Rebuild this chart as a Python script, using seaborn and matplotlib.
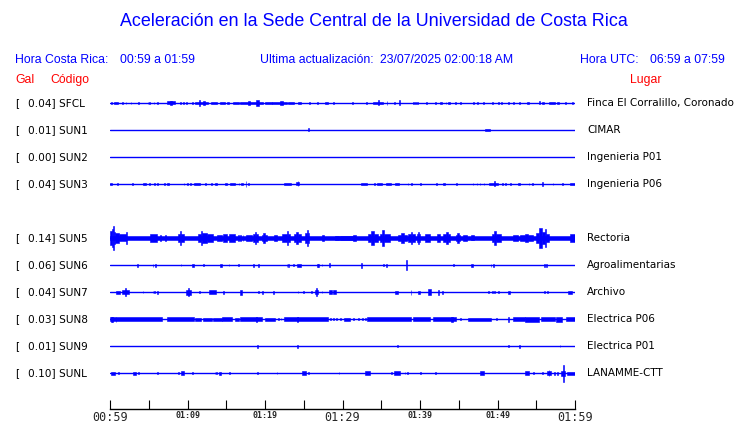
import matplotlib
matplotlib.use("Agg")
import matplotlib.pyplot as plt
import matplotlib.transforms as mtransforms
import numpy as np
import pandas as pd
import seaborn as sns

# Stations, top to bottom (slot 4 = SUN4 is empty)
codes = ['SFCL', 'SUN1', 'SUN2', 'SUN3', 'SUN5', 'SUN6', 'SUN7', 'SUN8', 'SUN9', 'SUNL']
gal = [0.04, 0.01, 0.00, 0.04, 0.14, 0.06, 0.04, 0.03, 0.01, 0.10]
places = ['Finca El Corralillo, Coronado', 'CIMAR', 'Ingenieria P01', 'Ingenieria P06',
          'Rectoria', 'Agroalimentarias', 'Archivo', 'Electrica P06', 'Electrica P01', 'LANAMME-CTT']
slots = [0, 1, 2, 3, 5, 6, 7, 8, 9, 10]

tick_min = list(range(0, 61, 5))
tick_labels = ['00:59', '', '01:09', '', '01:19', '', '01:29', '', '01:39', '', '01:49', '', '01:59']
big_labels = ['00:59', '01:29', '01:59']

# Bursts: (start min, end min, half amplitude)
sfcl = [(0.13, 0.13, 1), (0.55, 1.07, 1.3), (1.5, 1.7, 1.3), (2.0, 2.0, 1), (2.67, 2.67, 1),
        (3.6, 3.8, 1.3), (4.86, 4.86, 1), (5.08, 5.08, 1), (5.63, 5.63, 1), (6.06, 6.06, 1),
        (7.35, 8.4, 1.5), (7.7, 8.0, 2.2), (9.0, 9.0, 1), (9.4, 9.4, 1), (9.8, 9.8, 1),
        (10.6, 10.6, 1), (11.0, 12.6, 1.3), (11.5, 11.5, 3), (12.0, 12.2, 2), (13.0, 13.8, 1.3),
        (14.2, 14.8, 1.3), (15.05, 15.4, 1.3), (15.9, 16.6, 1.3), (16.8, 19.75, 1.3),
        (17.8, 18.0, 2), (18.9, 19.2, 3), (20.0, 20.9, 1.3), (20.9, 22.8, 1.3), (21.9, 22.3, 2.2),
        (23.0, 23.7, 1.3), (24.3, 24.7, 1.3), (25.7, 25.7, 1), (26.7, 26.7, 1), (27.8, 28.1, 1.3),
        (28.8, 28.8, 1), (31.2, 31.2, 1), (33.0, 33.0, 1), (33.9, 35.2, 1.3), (34.6, 34.6, 2.5),
        (35.7, 35.7, 2), (36.7, 36.7, 1), (37.3, 37.3, 2.5), (39.1, 39.1, 1), (39.4, 39.4, 1),
        (39.6, 39.6, 1), (40.8, 40.8, 1), (41.9, 41.9, 1), (42.6, 42.9, 1.3), (43.3, 43.3, 1),
        (43.6, 43.9, 1.3), (44.5, 44.5, 1), (45.2, 45.2, 1), (46.9, 46.9, 1), (47.4, 47.4, 1),
        (48.1, 48.1, 1), (49.3, 49.3, 1), (50.1, 50.1, 1), (50.5, 50.5, 1), (51.4, 51.4, 1),
        (52.0, 52.0, 1), (52.8, 52.8, 1), (53.8, 54.0, 1.3), (55.4, 55.4, 1.5), (55.7, 56.0, 1.3),
        (56.7, 57.4, 1.3), (57.7, 58.0, 1.3), (58.7, 58.7, 1), (59.6, 59.8, 1.3)]
sun1 = [(25.6, 25.6, 1.5), (48.4, 49.0, 1.3)]
sun2 = []
sun3 = [(0, 0.2, 1.3), (0.95, 0.95, 1), (2.9, 2.9, 1), (4.2, 4.6, 1.3), (5.0, 5.0, 1),
        (5.7, 5.7, 1), (6.1, 6.1, 1), (7.0, 7.0, 1), (7.35, 7.6, 1.3), (9.5, 9.5, 1),
        (9.9, 9.9, 1), (10.3, 10.3, 1), (10.9, 11.6, 1.3), (12.3, 12.3, 1), (13.0, 13.1, 1.3),
        (13.5, 13.8, 1.3), (14.8, 15.05, 1.3), (15.5, 16.1, 1.3), (16.6, 16.6, 1),
        (16.9, 17.2, 1.3), (17.5, 17.5, 3), (17.8, 17.9, 1.3), (22.4, 23.3, 1.3),
        (24.0, 24.4, 1.5), (24.2, 24.2, 2.5), (32.4, 33.1, 1.3), (34.1, 34.1, 1),
        (34.5, 35.1, 1.3), (35.6, 36.3, 1.3), (36.8, 37.3, 1.3), (38.4, 38.4, 1),
        (38.9, 39.0, 1.3), (40.0, 40.0, 1), (42.1, 42.1, 1), (43.0, 43.2, 1.3), (44.7, 44.7, 1),
        (46.8, 46.8, 1), (47.3, 47.3, 1), (47.7, 47.7, 1), (48.2, 48.2, 1), (48.9, 50.1, 1.3),
        (49.6, 49.6, 2.5), (50.6, 50.6, 1), (51.0, 51.0, 1.3), (51.6, 51.6, 1),
        (52.6, 52.9, 1.3), (54.0, 54.0, 1), (54.5, 54.5, 1), (55.8, 55.8, 2), (57.1, 57.1, 1),
        (58.3, 58.3, 1), (59.3, 60, 1.3)]
sun5 = [(0, 60, 1.7), (0, 0.2, 7), (0.2, 0.4, 9), (0.4, 0.5, 12), (0.5, 0.65, 6),
        (0.65, 1.2, 5), (1.2, 2.1, 3.5), (2.1, 2.15, 6), (5.1, 6.0, 4), (6.5, 6.5, 3),
        (7.1, 7.1, 3), (8.8, 9.0, 4), (9.0, 9.2, 7), (9.2, 9.5, 4), (11.4, 11.7, 4),
        (11.7, 11.9, 7), (11.9, 12.5, 5), (12.5, 13.3, 4), (13.8, 14.4, 3), (14.6, 15.05, 4),
        (15.3, 16.1, 4), (16.5, 16.5, 3), (16.8, 16.8, 3), (17.1, 17.1, 3), (17.6, 18.3, 3),
        (18.5, 18.7, 4), (18.7, 18.9, 6), (18.9, 19.1, 4), (19.6, 19.8, 3), (19.8, 20.0, 5),
        (20.0, 20.2, 3), (21.1, 21.5, 3), (22.2, 22.8, 4), (22.8, 23.0, 7), (23.0, 23.2, 4),
        (23.7, 24.0, 4), (24.0, 24.3, 6), (24.3, 24.7, 4), (25.2, 25.4, 5), (25.4, 25.5, 8),
        (25.5, 25.7, 5), (27.3, 27.6, 3), (29.0, 29.5, 2), (29.7, 31.4, 2.3), (31.4, 31.8, 3),
        (33.3, 33.7, 4), (33.7, 34.0, 7), (34.0, 34.6, 4), (34.8, 35.1, 4), (35.1, 35.3, 8),
        (35.3, 36.1, 4), (37.2, 37.6, 3), (37.6, 37.9, 5), (37.9, 38.3, 3), (38.5, 38.8, 4),
        (38.8, 39.0, 6), (39.0, 39.4, 4), (39.6, 39.7, 4), (39.7, 39.9, 6), (39.9, 40.0, 4),
        (40.6, 41.3, 4), (42.2, 42.6, 4), (43.0, 43.3, 4), (43.3, 43.6, 6), (43.6, 43.9, 4),
        (44.6, 44.8, 3), (44.8, 45.0, 5), (45.0, 45.2, 3), (45.6, 46.0, 3), (46.6, 47.0, 2.5),
        (49.3, 49.6, 4), (49.6, 49.8, 7), (49.8, 50.5, 4), (52.0, 52.7, 3), (52.9, 53.5, 3),
        (53.5, 53.9, 4), (53.9, 54.6, 3), (55.0, 55.4, 5), (55.4, 55.7, 10), (55.7, 56.1, 6),
        (56.1, 56.3, 9), (56.3, 56.6, 4), (59.4, 60, 4)]
sun6 = [(3.5, 3.5, 1.5), (5.5, 5.5, 1.5), (5.8, 5.8, 1.5), (9.1, 9.1, 1.2), (10.6, 10.8, 1.5),
        (12.0, 12.0, 1.2), (14.2, 14.4, 1.5), (15.3, 15.3, 1.2), (16.5, 16.5, 1.2),
        (18.5, 18.5, 1.5), (19.1, 19.1, 1.5), (22.8, 22.8, 1.5), (23.0, 23.0, 1.5),
        (23.6, 23.6, 1.2), (24.1, 24.6, 1.5), (26.7, 26.7, 1.5), (26.9, 26.9, 1.5),
        (27.3, 27.3, 1.2), (28.3, 28.3, 2), (32.4, 32.5, 2.5), (35.2, 35.2, 1), (35.6, 35.6, 1.5),
        (38.2, 38.3, 5), (44.3, 44.3, 1.2), (46.6, 46.8, 1.5), (49.1, 49.1, 1.5),
        (49.4, 49.4, 1.5), (56.0, 56.0, 1.5), (56.3, 56.3, 1.5)]
sun7 = [(0.77, 1.3, 1.5), (1.5, 2.4, 2), (1.9, 1.9, 4), (4.2, 4.2, 1.2), (5.5, 5.5, 1.2),
        (5.7, 5.7, 1.2), (6.1, 6.2, 1.5), (9.8, 10.5, 2.5), (10.1, 10.1, 4), (11.5, 11.5, 1),
        (12.8, 13.7, 2), (14.6, 14.6, 1.5), (16.8, 17.0, 2.5), (19.1, 19.1, 1.2),
        (19.6, 19.6, 1.5), (21.0, 21.0, 1.5), (24.2, 24.2, 1), (24.9, 24.9, 1), (25.9, 25.9, 1.2),
        (26.4, 26.9, 2), (26.6, 26.6, 4), (27.3, 27.3, 1.2), (28.2, 28.6, 2), (28.8, 29.2, 2),
        (36.8, 37.1, 1.5), (38.8, 38.8, 2.5), (39.8, 40.0, 1.5), (41.0, 41.4, 3),
        (42.3, 42.3, 2.5), (42.9, 42.9, 1.5), (48.8, 48.8, 1.2), (49.3, 49.3, 1.2),
        (49.6, 49.6, 1.2), (50.1, 50.1, 1.2), (51.4, 51.6, 1.5), (56.0, 56.0, 1.2),
        (56.4, 56.4, 1.2), (59.1, 59.6, 1.5)]
sun8 = [(0, 6.7, 1.8), (0.1, 0.15, 2.5), (0.3, 0.3, 2.5), (0.73, 0.73, 2.5), (7.35, 10.8, 1.8),
        (11.0, 11.8, 1.5), (12.0, 13.1, 1.5), (13.3, 14.4, 1.5), (14.5, 15.7, 1.8),
        (16.1, 16.6, 1.5), (16.8, 19.6, 1.8), (18.9, 18.9, 2.5), (20.0, 21.3, 1.5),
        (21.7, 21.7, 1.2), (22.0, 22.0, 1.2), (22.5, 24.3, 1.8), (24.1, 24.1, 2.5),
        (24.3, 28.1, 1.8), (28.4, 28.4, 1.2), (28.8, 28.8, 1.2), (29.2, 29.2, 1.2),
        (29.7, 29.7, 1.2), (30.2, 31.0, 1.5), (31.4, 31.4, 1.2), (32.0, 32.0, 1.2),
        (32.5, 32.5, 1.2), (32.9, 32.9, 1.2), (33.1, 38.9, 1.8), (39.1, 41.3, 1.8),
        (41.7, 44.7, 1.8), (44.0, 44.2, 2.5), (45.2, 45.2, 1.2), (46.2, 49.2, 1.5),
        (49.8, 49.8, 1.2), (51.4, 51.4, 2.5), (52.0, 53.5, 1.8), (53.6, 55.3, 2.5),
        (55.6, 57.4, 1.8), (57.6, 58.3, 2.5), (58.9, 60, 2)]
sun9 = [(19.0, 19.0, 1.5), (24.1, 24.1, 1.5), (37.0, 37.0, 1), (51.4, 51.4, 1.2),
        (52.8, 52.8, 1.5), (58.0, 58.0, 1)]
sunl = [(0.1, 0.65, 1.5), (1.0, 1.0, 1.2), (3.0, 3.3, 1.5), (3.65, 3.65, 1.2), (6.1, 6.1, 1.2),
        (8.8, 8.8, 1), (9.2, 9.6, 2), (10.6, 10.6, 1.2), (13.5, 13.5, 1.2), (13.7, 13.7, 1.2),
        (14.0, 14.3, 1.5), (15.4, 15.4, 1.2), (19.0, 19.0, 1.2), (21.5, 21.5, 1),
        (24.8, 25.3, 2), (25.6, 25.6, 1.2), (29.5, 29.5, 1.2), (32.9, 33.6, 1.7),
        (36.3, 36.3, 1), (36.7, 37.4, 1.7), (38.0, 38.0, 1.2), (38.3, 38.3, 1.2),
        (40.0, 40.0, 1.2), (41.9, 41.9, 1.2), (47.8, 48.2, 1.7), (53.5, 54.0, 1.7),
        (54.6, 54.6, 1.2), (55.8, 55.8, 1.2), (56.4, 56.9, 2), (56.6, 56.6, 3),
        (57.3, 57.3, 1.5), (57.7, 57.7, 1.5), (58.2, 58.7, 2.5), (58.45, 58.45, 8.5),
        (59.0, 60, 1.5)]

bursts = dict(zip(codes, [sfcl, sun1, sun2, sun3, sun5, sun6, sun7, sun8, sun9, sunl]))

sns.set_theme(style="white")
plt.rcParams['font.family'] = ['DejaVu Sans']

W, H = 740, 423
ROW = 27
fig = plt.figure(figsize=(W / 100, H / 100), dpi=100)
fig.patch.set_facecolor('white')
ax = fig.add_axes([110 / W, (H - 409) / H, 465 / W, (409 - 89.5) / H])
ax.set_facecolor('white')

row_y = [s * ROW for s in slots]

# baselines
base = pd.DataFrame({
    'station': np.repeat(codes, 2),
    'minute': [0, 60] * len(codes),
    'y': np.repeat(row_y, 2),
})
sns.lineplot(data=base, x='minute', y='y', units='station', estimator=None,
             color='blue', lw=1, ax=ax, legend=False)

# bursts
bx, bw, bb, bh = [], [], [], []
for code, y in zip(codes, row_y):
    for t0, t1, a in bursts[code]:
        bx.append(t0)
        bw.append(max(t1 - t0, 0.1))
        bb.append(y - a)
        bh.append(2 * a)
ax.bar(bx, bh, width=bw, bottom=bb, align='edge', color='blue', edgecolor='blue', linewidth=0.4)

ax.set_xlim(0, 60)
ax.set_ylim(306, -13.5)
ax.set_xlabel('')
ax.set_ylabel('')
ax.set_yticks([])
for side in ['top', 'left', 'right']:
    ax.spines[side].set_visible(False)
ax.spines['bottom'].set_color('black')
ax.spines['bottom'].set_linewidth(1)
ax.set_xticks(tick_min, tick_labels)
ax.tick_params(axis='x', direction='in', length=6.5, width=0.8, color='black', pad=1.5, bottom=True)
for lab in ax.get_xticklabels():
    lab.set_fontfamily('DejaVu Sans Mono')
    if lab.get_text() in big_labels:
        lab.set_fontsize(8.5)
    else:
        lab.set_fontsize(6)
        lab.set_fontweight('bold')

# left / right station labels
trans = mtransforms.blended_transform_factory(fig.transFigure, ax.transData)
for code, g, place, y in zip(codes, gal, places, row_y):
    ax.text(15 / W, y, '[', transform=trans, fontsize=7.6, va='center', color='black')
    ax.text(28 / W, y, f'{g:.2f}] {code}', transform=trans, fontsize=7.6, va='center', color='black')
    ax.text(587 / W, y, place, transform=trans, fontsize=7.5, va='center', color='black')


def ftext(x, y, s, **kw):
    fig.text(x / W, 1 - y / H, s, va='center', family='Liberation Sans', **kw)


ftext(374, 22, 'Aceleración en la Sede Central de la Universidad de Costa Rica',
      ha='center', fontsize=12.9, color='blue')
ftext(15, 60, 'Hora Costa Rica:', fontsize=8.8, color='blue')
ftext(120, 60, '00:59 a 01:59', fontsize=8.8, color='blue')
ftext(260, 60, 'Ultima actualización:', fontsize=8.8, color='blue')
ftext(380, 60, '23/07/2025 02:00:18 AM', fontsize=8.8, color='blue')
ftext(580, 60, 'Hora UTC:', fontsize=8.8, color='blue')
ftext(650, 60, '06:59 a 07:59', fontsize=8.8, color='blue')
ftext(15, 80, 'Gal', fontsize=8.8, color='red')
ftext(50, 80, 'Código', fontsize=8.8, color='red')
ftext(630, 80, 'Lugar', fontsize=8.8, color='red')

fig.savefig('out.png', dpi=100, facecolor='white')
